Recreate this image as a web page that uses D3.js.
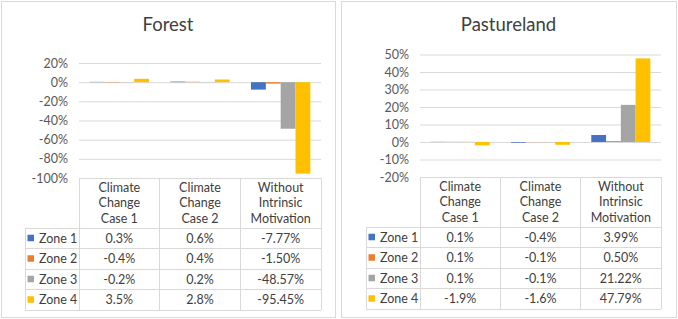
<html>
<head>
<title>forest-pasture</title>
<script src="https://d3js.org/d3.v7.min.js"></script>
<style>
  body { margin: 0; background: #fff; }
  text { font-family: Lato, "Open Sans", sans-serif; fill: #404040; }
  .grid line { stroke: #d9d9d9; }
</style>
</head>
<body>
<script>
const categories = [
  ["Climate", "Change", "Case 1"],
  ["Climate", "Change", "Case 2"],
  ["Without", "Intrinsic", "Motivation"]
];
const zones = ["Zone 1", "Zone 2", "Zone 3", "Zone 4"];
const colors = ["#4472c4", "#ed7d31", "#a5a5a5", "#ffc000"];
const decimals = [1, 1, 2];

// one row per zone, one value per category (percent)
const forestValues = [
  [0.3, 0.6, -7.77],
  [-0.4, 0.4, -1.50],
  [-0.2, 0.2, -48.57],
  [3.5, 2.8, -95.45]
];
const pastureValues = [
  [0.1, -0.4, 3.99],
  [0.1, -0.1, 0.50],
  [0.1, -0.1, 21.22],
  [-1.9, -1.6, 47.79]
];
const forestTicks = [20, 0, -20, -40, -60, -80, -100];
const pastureTicks = [50, 40, 30, 20, 10, 0, -10, -20];

const W = 678, H = 319;
const svg = d3.select("body").append("svg").attr("width", W).attr("height", H);

function drawPanel(p) {
  const g = svg.append("g");
  g.append("rect")
    .attr("x", p.left + 0.5).attr("y", 1.5)
    .attr("width", p.right - p.left).attr("height", 316)
    .attr("fill", "#fff").attr("stroke", "#d9d9d9");

  g.append("text")
    .attr("x", (p.left + p.right) / 2).attr("y", 31)
    .attr("text-anchor", "middle")
    .style("font-size", "18.5px")
    .text(p.title);

  const y = d3.scaleLinear().domain(d3.extent(p.ticks)).range([p.bottom, p.top]);
  const x0 = d3.scaleBand().domain(d3.range(categories.length)).range([p.plotLeft, p.plotRight]);
  const x1 = d3.scaleBand().domain(d3.range(zones.length)).range([0, x0.bandwidth()]).paddingOuter(0.72);

  const axis = g.append("g")
    .attr("class", "grid")
    .attr("transform", "translate(" + p.plotLeft + ",0)")
    .call(d3.axisLeft(y).tickValues(p.ticks).tickSize(-(p.plotRight - p.plotLeft)).tickPadding(11).tickFormat(d => d + "%"));
  axis.select(".domain").remove();
  axis.selectAll("text").style("font-size", "12.5px").style("fill", "#595959");

  p.values.forEach((row, zi) => {
    g.selectAll(null)
      .data(row)
      .enter()
      .append("rect")
      .attr("x", (d, ci) => x0(ci) + x1(zi))
      .attr("y", d => y(Math.max(0, d)))
      .attr("width", x1.bandwidth())
      .attr("height", d => Math.abs(y(d) - y(0)))
      .attr("fill", colors[zi]);
  });

  // data table
  const headTop = p.bottom, headBottom = p.bottom + 50, rowH = 20.5;
  const tableBottom = headBottom + rowH * zones.length;
  const lines = g.append("g").attr("stroke", "#d9d9d9").attr("shape-rendering", "crispEdges");
  lines.append("line").attr("x1", p.plotLeft).attr("x2", p.plotRight).attr("y1", headTop).attr("y2", headTop);
  d3.range(zones.length + 1).forEach(i => {
    lines.append("line").attr("x1", p.legendLeft).attr("x2", p.plotRight)
      .attr("y1", headBottom + i * rowH).attr("y2", headBottom + i * rowH);
  });
  lines.append("line").attr("x1", p.legendLeft).attr("x2", p.legendLeft).attr("y1", headBottom).attr("y2", tableBottom);
  d3.range(categories.length + 1).forEach(i => {
    const xx = i < categories.length ? x0(i) : p.plotRight;
    lines.append("line").attr("x1", xx).attr("x2", xx).attr("y1", headTop).attr("y2", tableBottom);
  });

  categories.forEach((c, ci) => {
    const t = g.append("text")
      .attr("x", x0(ci) + x0.bandwidth() / 2).attr("y", headTop + 13.5)
      .attr("text-anchor", "middle").style("font-size", "12.5px");
    c.forEach((s, li) => t.append("tspan").attr("x", x0(ci) + x0.bandwidth() / 2).attr("dy", li ? 15.7 : 0).text(s));
  });

  zones.forEach((z, zi) => {
    const cy = headBottom + zi * rowH + rowH / 2;
    g.append("rect").attr("x", p.legendLeft + 2.5).attr("y", cy - 3.5).attr("width", 6.5).attr("height", 6.5).attr("fill", colors[zi]);
    g.append("text").attr("x", p.legendLeft + 14).attr("y", cy + 4.5).style("font-size", "12.5px").text(z);
    p.values[zi].forEach((v, ci) => {
      g.append("text")
        .attr("x", x0(ci) + x0.bandwidth() / 2).attr("y", cy + 4.5)
        .attr("text-anchor", "middle").style("font-size", "12.5px")
        .text(v.toFixed(decimals[ci]) + "%");
    });
  });
}

drawPanel({ title: "Forest", left: 1, right: 335, values: forestValues, ticks: forestTicks,
  top: 63, bottom: 178, plotLeft: 79, plotRight: 321, legendLeft: 25 });
drawPanel({ title: "Pastureland", left: 341, right: 676, values: pastureValues, ticks: pastureTicks,
  top: 54.5, bottom: 177, plotLeft: 420, plotRight: 661, legendLeft: 366 });
</script>
</body>
</html>
